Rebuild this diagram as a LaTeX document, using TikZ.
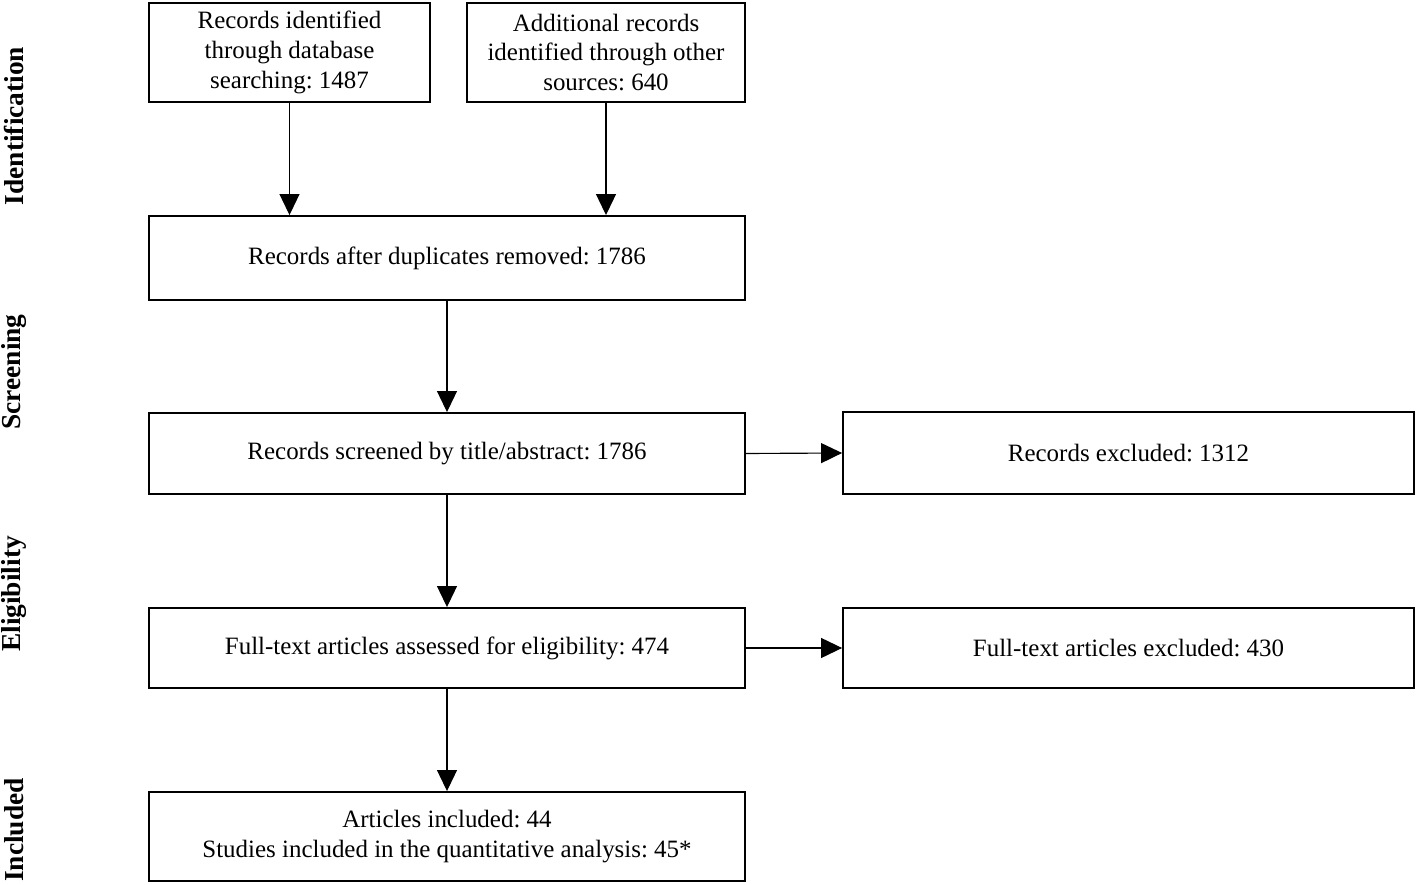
\documentclass[tikz,border=0pt]{standalone}
\usepackage{fontspec}
\setmainfont{Liberation Serif}
\usetikzlibrary{arrows.meta}
\frenchspacing
\definecolor{col_000000}{RGB}{0,0,0}
\definecolor{col_ffffff}{RGB}{255,255,255}
\tikzset{
  prismabox/.style={draw=col_000000, line width=1.1pt, fill=col_ffffff, align=center, inner sep=0pt, font=\fontsize{14.2}{17}\selectfont},
  prismaarrow/.style={draw=col_000000, line width=0.65pt, -{Triangle[length=0.42cm,width=0.4cm]}},
  stagelabel/.style={rotate=90, font=\fontsize{15.6}{18}\selectfont\bfseries}
}
\newcommand{\prismastage}[3]{%
\node[stagelabel] (#1) at (14,#2) {#3};
}

\begin{document}
\begin{tikzpicture}[x=0.02cm,y=-0.02cm]
\useasboundingbox (0,0) rectangle (1418,885);
\node[prismabox, minimum width=5.62cm, minimum height=1.98cm] (db) at (289.5,52.5) {Records identified\\through database\\searching: 1487};     %% identification
\node[prismabox, minimum width=5.56cm, minimum height=1.98cm] (other) at (606,52.5) {Additional records\\identified through other\\sources: 640};
\node[prismabox, minimum width=11.92cm, minimum height=1.68cm] (dup) at (447,258) {Records after duplicates removed: 1786};     %% screening
\node[prismabox, minimum width=11.92cm, minimum height=1.62cm] (screen) at (447,453.5) {Records screened by title/abstract: 1786};
\node[prismabox, minimum width=11.42cm, minimum height=1.64cm] (excl) at (1128.5,453) {Records excluded: 1312};
\node[prismabox, minimum width=11.92cm, minimum height=1.60cm] (full) at (447,648) {Full-text articles assessed for eligibility: 474};     %% eligibility
\node[prismabox, minimum width=11.42cm, minimum height=1.60cm] (fullexcl) at (1128.5,648) {Full-text articles excluded: 430};
\node[prismabox, minimum width=11.92cm, minimum height=1.78cm] (incl) at (447,836.5) {Articles included: 44\\Studies included in the quantitative analysis: 45*};     %% included
\draw[prismaarrow] (db.south) -- (db.south |- dup.north);
\draw[prismaarrow] (other.south) -- (other.south |- dup.north);
\draw[prismaarrow] (dup.south) -- (screen.north);
\draw[prismaarrow] (screen.east) -- (excl.west);
\draw[prismaarrow] (screen.south) -- (full.north);
\draw[prismaarrow] (full.east) -- (fullexcl.west);
\draw[prismaarrow] (full.south) -- (incl.north);
\prismastage{ident}{126}{Identification}
\prismastage{scr}{372}{Screening}
\prismastage{elig}{594}{Eligibility}
\prismastage{inc}{830}{Included}
\end{tikzpicture}
\end{document}
